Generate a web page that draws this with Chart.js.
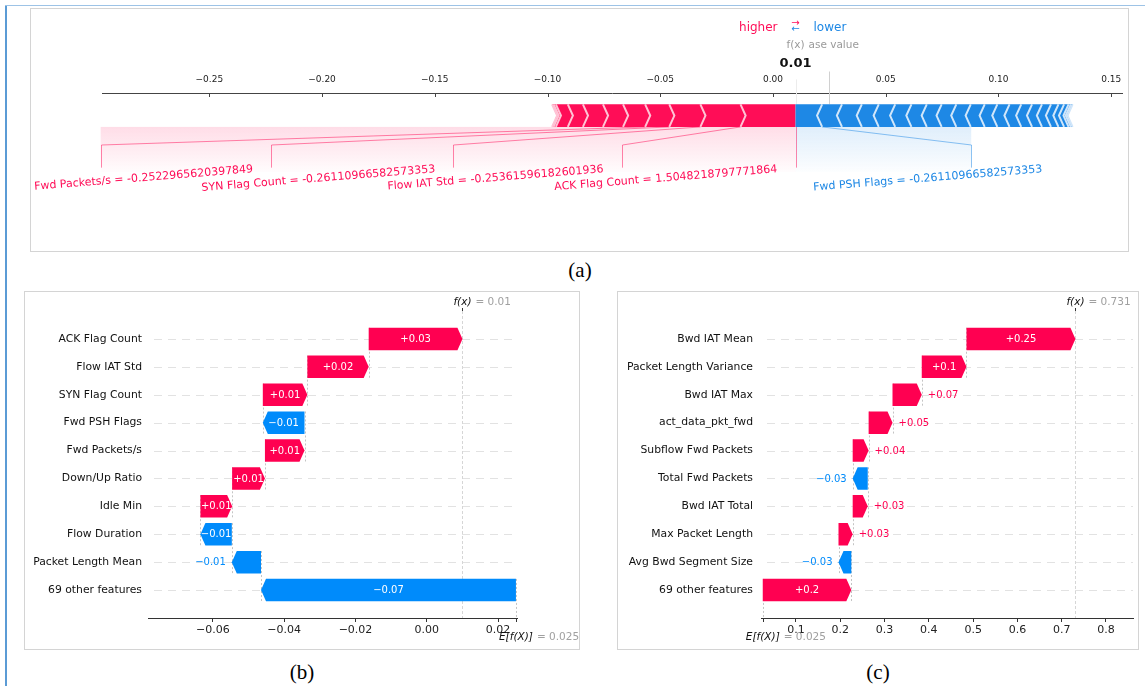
<!DOCTYPE html>
<html>
<head>
<meta charset="utf-8">
<script src="https://cdn.jsdelivr.net/npm/chart.js@4.4.1/dist/chart.umd.min.js"></script>
<style>
  html, body { margin: 0; padding: 0; background: #fff; }
  body { width: 1145px; height: 686px; position: relative; overflow: hidden; font-family: 'DejaVu Sans', sans-serif; }
  .frame { position: absolute; border: 1px solid #d4d4d4; box-sizing: border-box; }
  .cap { position: absolute; font-family: 'Liberation Serif', serif; font-size: 21px; line-height: 24px; transform: translateX(-50%); }
  canvas { position: absolute; left: 0; top: 0; }
  #edgeL { position: absolute; left: 5px; top: 5px; width: 2px; height: 681px; background: #5b9bd5; }
  #edgeT { position: absolute; left: 5px; top: 5px; width: 1140px; height: 1px; background: #9dc3e6; }
</style>
</head>
<body>
<div id="edgeL"></div><div id="edgeT"></div>
<div class="frame" style="left:30px;top:8px;width:1099px;height:244px"></div>
<div class="frame" style="left:24px;top:291px;width:556px;height:359px"></div>
<div class="frame" style="left:617px;top:291px;width:522px;height:359px"></div>
<div class="cap" style="left:580px;top:258px">(a)</div>
<div class="cap" style="left:302px;top:660px">(b)</div>
<div class="cap" style="left:878px;top:660px">(c)</div>
<canvas id="chartA" width="1145" height="686"></canvas>
<canvas id="chartB" width="1145" height="686"></canvas>
<canvas id="chartC" width="1145" height="686"></canvas>
<script>
// ---- (a) force plot data ----
const aBase = 0.025;
const aFx = 0.01;
// red = pushes higher (largest first), blue = pushes lower (largest first)
const aRed = [0.0244, 0.0178, 0.0138, 0.0107, 0.0098, 0.0089, 0.0089, 0.0067, 0.0053, 0.001, 0.0007];
const aBlue = [0.0118, 0.0088, 0.0088, 0.0075, 0.0073, 0.0072, 0.0068, 0.0066, 0.0065, 0.0064, 0.0062,
               0.0056, 0.0054, 0.0052, 0.0048, 0.0044, 0.004, 0.0033, 0.0025, 0.002, 0.001, 0.0008];
const aRedNames = ['ACK Flag Count', 'Flow IAT Std', 'SYN Flag Count', 'Fwd Packets/s'];
const aRedValues = ['1.5048218797771864', '-0.25361596182601936', '-0.26110966582573353', '-0.2522965620397849'];
const aBlueNames = ['Fwd PSH Flags'];
const aBlueValues = ['-0.26110966582573353'];
const aTicks = [-0.25, -0.2, -0.15, -0.1, -0.05, 0, 0.05, 0.1, 0.15];

// ---- (b) waterfall data ----
const bNames = ['ACK Flag Count', 'Flow IAT Std', 'SYN Flag Count', 'Fwd PSH Flags', 'Fwd Packets/s',
                'Down/Up Ratio', 'Idle Min', 'Flow Duration', 'Packet Length Mean', '69 other features'];
const bShap = [0.0263, 0.0172, 0.0125, -0.0117, 0.0111, 0.0092, 0.0089, -0.0088, -0.0082, -0.0715];
const bBase = 0.025;
const bTicks = [-0.06, -0.04, -0.02, 0, 0.02];

// ---- (c) waterfall data ----
const cNames = ['Bwd IAT Mean', 'Packet Length Variance', 'Bwd IAT Max', 'act_data_pkt_fwd', 'Subflow Fwd Packets',
                'Total Fwd Packets', 'Bwd IAT Total', 'Max Packet Length', 'Avg Bwd Segment Size', '69 other features'];
const cShap = [0.246, 0.101, 0.066, 0.054, 0.036, -0.034, 0.034, 0.032, -0.029, 0.2];
const cBase = 0.025;
const cTicks = [0.1, 0.2, 0.3, 0.4, 0.5, 0.6, 0.7, 0.8];

Chart.defaults.font.family = "'DejaVu Sans', sans-serif";
Chart.defaults.color = '#222';
Chart.defaults.animation = false;
Chart.defaults.plugins.legend.display = false;
Chart.defaults.plugins.tooltip.enabled = false;

const FONT = '"DejaVu Sans"';

// shap style number: strip trailing zeros, real minus sign
function fmtShort(v, digits, plus) {
  let s = v.toFixed(digits);
  if (s.indexOf('.') >= 0) s = s.replace(/0+$/, '').replace(/\.$/, '');
  if (plus && v >= 0) s = '+' + s;
  return s.replace('-', '\u2212');
}
const fmtTick = (v, d) => v.toFixed(d).replace('-', '\u2212');

function seg(ctx, x0, y0, x1, y1) {
  ctx.beginPath(); ctx.moveTo(x0, y0); ctx.lineTo(x1, y1); ctx.stroke();
}

// Force plot: bars, separators, label fans
const forcePlugin = {
  id: 'force',
  afterDraw(chart) {
    const { ctx, chartArea: ca, scales: { x, y } } = chart;
    const X = v => x.getPixelForValue(v), Y = v => y.getPixelForValue(v);
    const ROT = 4.6 * Math.PI / 180;
    const wb = 0.1, ind = (x.max - x.min) / 200;
    ctx.save();

    // ticks hang below the top axis line
    ctx.strokeStyle = '#444'; ctx.lineWidth = 1;
    x.ticks.forEach(t => { const px = Math.round(X(t.value)) + 0.5; seg(ctx, px, ca.top, px, ca.top + 4); });

    // base value marker + faint f(x) marker
    ctx.strokeStyle = '#d0d0d0';
    seg(ctx, Math.round(X(aBase)) + 0.5, Y(0.245), Math.round(X(aBase)) + 0.5, Y(0.1));
    ctx.strokeStyle = '#ececec';
    seg(ctx, Math.round(X(aFx)) + 0.5, Y(0.21), Math.round(X(aFx)) + 0.5, Y(0.1));

    // label layout
    ctx.font = '11px ' + FONT;
    const redLab = [];
    let start = X(aFx), val = aFx;
    aRedNames.forEach((name, i) => {
      val -= aRed[i];
      const text = name + ' = ' + aRedValues[i];
      const w = ctx.measureText(text).width;
      const end = start - 0.777 * w;
      redLab.push({ text, tx: start - 18, val, end });
      start = end;
    });
    const blueLab = [];
    start = X(aFx); val = aFx;
    aBlueNames.forEach((name, i) => {
      val += aBlue[i];
      const text = name + ' = ' + aBlueValues[i];
      const w = ctx.measureText(text).width;
      const end = start + 0.765 * w;
      blueLab.push({ text, tx: start + 18 + w * Math.cos(ROT), val, end });
      start = end;
    });

    // shading under the bar
    function shade(x0, x1, rgb) {
      const g = ctx.createLinearGradient(0, Y(0), 0, Y(-0.2));
      g.addColorStop(0, 'rgba(' + rgb + ',0.14)');
      g.addColorStop(1, 'rgba(' + rgb + ',0.01)');
      ctx.fillStyle = g;
      ctx.fillRect(Math.min(x0, x1), Y(0), Math.abs(x1 - x0), Y(-0.2) - Y(0));
    }
    shade(redLab[redLab.length - 1].end, X(aFx), '255,13,87');
    shade(X(aFx), blueLab[blueLab.length - 1].end, '30,136,229');

    // fan lines
    ctx.lineWidth = 1;
    ctx.strokeStyle = 'rgba(255,13,87,0.5)';
    seg(ctx, Math.round(X(aFx)) + 0.5, Y(0), Math.round(X(aFx)) + 0.5, Y(-0.18));
    const fan = (l) => {
      const e = Math.round(l.end) + 0.5;
      ctx.beginPath(); ctx.moveTo(X(l.val), Y(0)); ctx.lineTo(e, Y(-0.08)); ctx.lineTo(e, Y(-0.18)); ctx.stroke();
    };
    redLab.forEach(fan);
    ctx.strokeStyle = 'rgba(30,136,229,0.5)';
    blueLab.forEach(fan);

    // bars
    const poly = (pts, color) => {
      ctx.beginPath();
      pts.forEach((p, k) => (k ? ctx.lineTo(X(p[0]), Y(p[1])) : ctx.moveTo(X(p[0]), Y(p[1]))));
      ctx.closePath(); ctx.fillStyle = color; ctx.fill();
    };
    const seps = [];
    let pre = aFx;
    aRed.forEach((v, i) => {
      const left = pre - v, right = pre; pre = left;
      poly(i === 0
        ? [[left, 0], [right, 0], [right, wb], [left, wb], [left + ind, wb / 2]]
        : [[left, 0], [right, 0], [right + ind * 0.9, wb / 2], [right, wb], [left, wb], [left + ind * 0.9, wb / 2]],
        '#FF0D57');
      seps.push([left, ind, '#FFC3D5']);
    });
    pre = aFx;
    aBlue.forEach((v, i) => {
      const left = pre, right = pre + v; pre = right;
      poly(i === 0
        ? [[right, 0], [left, 0], [left, wb], [right, wb], [right - ind, wb / 2]]
        : [[left, 0], [right, 0], [right - ind * 0.9, wb / 2], [right, wb], [left, wb], [left - ind * 0.9, wb / 2]],
        '#1E88E5');
      seps.push([right, -ind, '#D1E6FA']);
    });
    ctx.lineWidth = 2;
    seps.forEach(([p, d, c]) => {
      ctx.strokeStyle = c;
      ctx.beginPath(); ctx.moveTo(X(p), Y(0)); ctx.lineTo(X(p + d), Y(wb / 2)); ctx.lineTo(X(p), Y(wb)); ctx.stroke();
    });

    // tilted feature labels
    ctx.font = '11px ' + FONT;
    const tilt = (l, color) => {
      ctx.save(); ctx.translate(l.tx, Y(-0.2)); ctx.rotate(-ROT);
      ctx.textAlign = 'right'; ctx.textBaseline = 'alphabetic'; ctx.fillStyle = color;
      ctx.fillText(l.text, 0, 0); ctx.restore();
    };
    redLab.forEach(l => tilt(l, '#FF0D57'));
    blueLab.forEach(l => tilt(l, '#1E88E5'));

    // header: higher / lower, base value, f(x)
    const fxp = X(aFx);
    ctx.textBaseline = 'alphabetic';
    ctx.font = '12px ' + FONT;
    ctx.textAlign = 'right'; ctx.fillStyle = '#FF0D57'; ctx.fillText('higher', fxp - 18, Y(0.425));
    ctx.textAlign = 'left'; ctx.fillStyle = '#1E88E5'; ctx.fillText('lower', fxp + 18, Y(0.425));
    ctx.font = '10px ' + FONT; ctx.textAlign = 'center';
    ctx.fillStyle = '#FF0D57'; ctx.fillText('\u2192', fxp, Y(0.447));
    ctx.fillStyle = '#1E88E5'; ctx.fillText('\u2190', fxp, Y(0.418));

    ctx.font = '10.5px ' + FONT;
    ctx.fillStyle = '#9a9a9a'; ctx.fillText('base value', X(aBase) + 1, Y(0.35));
    let w = ctx.measureText('f(x)').width;
    ctx.fillStyle = '#fff'; ctx.fillRect(fxp - w / 2 - 4, Y(0.35) - 11, w + 8, 14);
    ctx.fillStyle = '#9a9a9a'; ctx.fillText('f(x)', fxp, Y(0.35));

    ctx.font = 'bold 13px ' + FONT;
    const fxTxt = fmtShort(aFx, 2);
    w = ctx.measureText(fxTxt).width;
    ctx.fillStyle = '#fff'; ctx.fillRect(fxp - w / 2 - 2, Y(0.265) - 12, w + 4, 15);
    ctx.fillStyle = '#111'; ctx.fillText(fxTxt, fxp, Y(0.265));
    ctx.restore();
  }
};

new Chart(document.getElementById('chartA'), {
  type: 'scatter',
  data: { datasets: [] },
  options: {
    responsive: false,
    layout: { padding: { left: 102, right: 23, top: 63, bottom: 446 } },
    scales: {
      x: {
        type: 'linear', position: 'top', min: -0.2976, max: 0.1548,
        afterBuildTicks: s => { s.ticks = aTicks.map(v => ({ value: v })); },
        afterFit: s => { s.height = 30; },
        grid: { display: false, drawTicks: false },
        border: { display: true, color: '#444', width: 1 },
        ticks: { padding: 8, maxRotation: 0, font: { size: 9 }, color: '#222', callback: v => fmtTick(v, 2) }
      },
      y: { type: 'linear', display: false, min: -0.5, max: 0.15 }
    }
  },
  plugins: [forcePlugin]
});

// Waterfall arrows, value texts, guides
const RED = '#FF0051', BLUE = '#008BFB';
const waterfallPlugin = {
  id: 'waterfall',
  beforeDatasetsDraw(chart) {
    const { ctx, chartArea: ca, scales: { x, y } } = chart;
    const rows = chart.data.datasets[0].data;
    const fx = rows[0].x[1];
    ctx.save();
    ctx.lineWidth = 1;
    ctx.strokeStyle = '#e2e2e2'; ctx.setLineDash([8, 6]);
    rows.forEach(r => {
      const py = Math.round(y.getPixelForValue(r.y)) + 0.5;
      seg(ctx, ca.left + 6, py, ca.right, py);
    });
    ctx.strokeStyle = '#c4c4c4'; ctx.setLineDash([2, 2]);
    rows.forEach(r => {
      const px = Math.round(x.getPixelForValue(r.x[0])) + 0.5;
      seg(ctx, px, y.getPixelForValue(r.y + 0.4), px, y.getPixelForValue(Math.max(r.y - 1.4, -1)));
    });
    const fp = Math.round(x.getPixelForValue(fx)) + 0.5;
    ctx.strokeStyle = '#d6d6d6'; ctx.setLineDash([3, 2]);
    seg(ctx, fp, ca.top, fp, ca.bottom);
    ctx.restore();
  },
  afterDatasetsDraw(chart) {
    const { ctx, scales: { x } } = chart;
    const rows = chart.data.datasets[0].data;
    const meta = chart.getDatasetMeta(0);
    ctx.save();
    meta.data.forEach((el, i) => {
      const r = rows[i];
      const x0 = x.getPixelForValue(r.x[0]), x1 = x.getPixelForValue(r.x[1]);
      const dir = x1 >= x0 ? 1 : -1, len = Math.abs(x1 - x0);
      const head = Math.min(len, 5), xb = x1 - dir * head;
      const yc = el.y, h = el.height;
      const col = dir > 0 ? RED : BLUE;
      ctx.beginPath();
      ctx.moveTo(x0, yc - h / 2); ctx.lineTo(xb, yc - h / 2); ctx.lineTo(x1, yc);
      ctx.lineTo(xb, yc + h / 2); ctx.lineTo(x0, yc + h / 2); ctx.closePath();
      ctx.fillStyle = col; ctx.fill();

      const txt = fmtShort(r.x[1] - r.x[0], 2, true);
      ctx.font = '10px ' + FONT; ctx.textBaseline = 'middle';
      const tw = ctx.measureText(txt).width;
      if (tw < len) {
        ctx.textAlign = 'center'; ctx.fillStyle = '#fff';
        ctx.fillText(txt, (x0 + x1) / 2, yc + 0.5);
      } else {
        ctx.textAlign = dir > 0 ? 'left' : 'right'; ctx.fillStyle = col;
        ctx.fillText(txt, x1 + dir * 6, yc + 0.5);
      }
    });
    ctx.restore();
  },
  afterDraw(chart) {
    const { ctx, chartArea: ca, scales: { x } } = chart;
    const rows = chart.data.datasets[0].data;
    const fx = rows[0].x[1], base = rows[rows.length - 1].x[0];
    const fp = x.getPixelForValue(fx), bp = x.getPixelForValue(base);
    ctx.save();
    ctx.strokeStyle = '#333'; ctx.lineWidth = 1;
    seg(ctx, Math.round(fp) + 0.5, ca.top, Math.round(fp) + 0.5, ca.top - 3);
    seg(ctx, Math.round(bp) + 0.5, ca.bottom, Math.round(bp) + 0.5, ca.bottom + 4);
    ctx.textBaseline = 'alphabetic';
    ctx.font = 'italic 10.5px ' + FONT; ctx.textAlign = 'center'; ctx.fillStyle = '#111';
    ctx.fillText('f(x)', fp, ca.top - 6);
    ctx.font = '10.5px ' + FONT; ctx.textAlign = 'left'; ctx.fillStyle = '#a0a0a0';
    ctx.fillText('= ' + fmtShort(fx, 3), fp + 13, ca.top - 6);
    ctx.font = 'italic 10.5px ' + FONT; ctx.textAlign = 'center'; ctx.fillStyle = '#111';
    const ew = ctx.measureText('E[f(X)]').width;
    ctx.fillText('E[f(X)]', bp, ca.bottom + 22);
    ctx.font = '10.5px ' + FONT; ctx.textAlign = 'left'; ctx.fillStyle = '#a0a0a0';
    ctx.fillText('= ' + fmtShort(base, 3), bp + ew / 2 + 4, ca.bottom + 22);
    ctx.restore();
  }
};

function makeWaterfall(id, names, shap, base, ticks, digits, xMin, xMax, left, right, labelPad) {
  const n = names.length;
  const rows = [];
  let acc = base;
  for (let i = n - 1; i >= 0; i--) {
    const s = acc;
    acc += shap[i];
    rows[i] = { y: n - 1 - i, x: [s, acc] };
  }
  const yWidth = Math.min(160, left);
  return new Chart(document.getElementById(id), {
    type: 'bar',
    data: { datasets: [{ data: rows, backgroundColor: 'rgba(0,0,0,0)', borderWidth: 0, barThickness: 22.5 }] },
    options: {
      indexAxis: 'y',
      responsive: false,
      layout: { padding: { left: left - yWidth, right: 1145 - right, top: 311, bottom: 38 } },
      scales: {
        x: {
          type: 'linear', min: xMin, max: xMax, beginAtZero: false,
          afterBuildTicks: s => { s.ticks = ticks.map(v => ({ value: v })); },
          afterFit: s => { s.height = 30; },
          grid: { drawOnChartArea: false, tickLength: 4, color: '#333' },
          border: { display: true, color: '#333', width: 1 },
          ticks: { padding: 2, maxRotation: 0, font: { size: 11 }, color: '#222', callback: v => fmtTick(v, digits) }
        },
        y: {
          type: 'linear', min: -1, max: n, offset: false,
          afterBuildTicks: s => { s.ticks = names.map((_, i) => ({ value: i })); },
          afterFit: s => { s.width = yWidth; },
          grid: { display: false, drawTicks: false },
          border: { display: false },
          ticks: { padding: labelPad, autoSkip: false, font: { size: 10.8 }, color: '#111', callback: v => names[n - 1 - v] }
        }
      }
    },
    plugins: [waterfallPlugin]
  });
}

makeWaterfall('chartB', bNames, bShap, bBase, bTicks, 2, -0.0782, 0.0253, 148, 517, 6);
makeWaterfall('chartC', cNames, cShap, cBase, cTicks, 1, 0.021, 0.861, 761, 1133, 8);
</script>
</body>
</html>
